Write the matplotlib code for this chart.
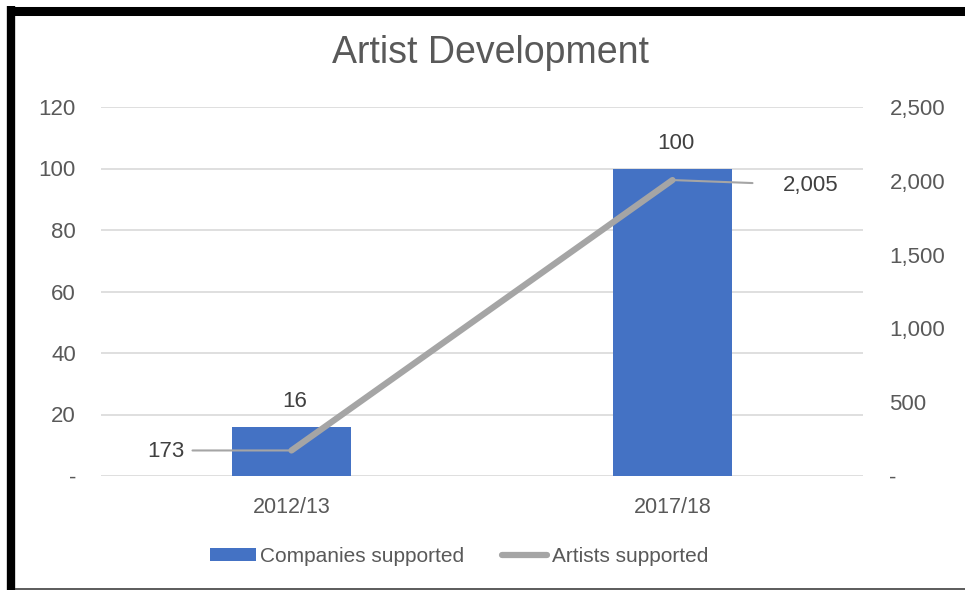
import matplotlib
matplotlib.use("Agg")
import matplotlib.pyplot as plt
from matplotlib.lines import Line2D
from matplotlib.patches import Patch
from matplotlib.ticker import FixedLocator, FuncFormatter

plt.rcParams["font.family"] = ["Liberation Sans", "DejaVu Sans"]

# Data
categories = ["2012/13", "2017/18"]
companies_supported = [16, 100]
artists_supported = [173, 2005]
left_ticks = [0, 20, 40, 60, 80, 100, 120]
right_ticks = [0, 500, 1000, 1500, 2000, 2500]

BLUE = "#4472C4"
GREY = "#A5A5A5"
TEXT = "#595959"
LABEL = "#404040"
GRID = "#D9D9D9"

W, H = 965, 592
fig = plt.figure(figsize=(W / 100, H / 100), dpi=100)
fig.patch.set_facecolor("white")

ax = fig.add_axes([101 / W, 1 - 476 / H, 762 / W, (476 - 107) / H])
ax2 = ax.twinx()

x = list(range(len(categories)))
ax.bar(x, companies_supported, width=0.31, color=BLUE, zorder=2)
ax.set_xlim(-0.5, len(categories) - 0.5)
ax.set_ylim(0, 120)
ax2.set_ylim(0, 2500)

ax2.plot(x, artists_supported, color=GREY, lw=4.5, solid_capstyle="round", zorder=3)

# Gridlines on the primary axis
ax.yaxis.set_major_locator(FixedLocator(left_ticks))
ax.grid(axis="y", color=GRID, lw=1.2, zorder=0)
ax.set_axisbelow(True)

def thousands(v, _):
    return "-" if v == 0 else f"{int(v):,}"

ax.yaxis.set_major_formatter(FuncFormatter(thousands))
ax2.yaxis.set_major_locator(FixedLocator(right_ticks))
ax2.yaxis.set_major_formatter(FuncFormatter(thousands))

ax.set_xticks(x)
ax.set_xticklabels(categories)
ax.tick_params(axis="x", length=0, pad=15, labelsize=15.5, labelcolor=TEXT)
ax.tick_params(axis="y", length=0, pad=18, labelsize=16, labelcolor=TEXT)
ax2.tick_params(axis="y", length=0, pad=19, labelsize=16, labelcolor=TEXT)
for lab in ax2.get_yticklabels():
    lab.set_horizontalalignment("left")

for a in (ax, ax2):
    for s in a.spines.values():
        s.set_visible(False)
    a.set_facecolor("none")

# Bar value labels
for xi, v in zip(x, companies_supported):
    ax.annotate(f"{v:,}", (xi, v), xytext=(3, 25), textcoords="offset pixels",
                ha="center", va="center", fontsize=16, color=LABEL)

# Line value labels, each joined to its point by a leader line
text_offsets = [(-126, -1), (138, -5)]
leader_offsets = [(-99, 0), (80, -3)]
for xi, v, toff, loff in zip(x, artists_supported, text_offsets, leader_offsets):
    ax2.annotate(f"{v:,}", (xi, v), xytext=toff, textcoords="offset pixels",
                 ha="center", va="center", fontsize=16, color=LABEL, zorder=4)
    ax2.annotate("", (xi, v), xytext=loff, textcoords="offset pixels",
                 arrowprops=dict(arrowstyle="-", color=GREY, lw=1.5,
                                 shrinkA=0, shrinkB=0), zorder=4)

fig.text(491 / W, 1 - 53 / H, "Artist Development", ha="center", va="center",
         fontsize=27, color=TEXT)

handles = [Patch(facecolor=BLUE, edgecolor="none"),
           Line2D([0], [0], color=GREY, lw=4.5, solid_capstyle="round")]
fig.legend(handles, ["Companies supported", "Artists supported"],
           loc="center", bbox_to_anchor=(459 / W, 1 - 556 / H), ncol=2,
           frameon=False, fontsize=15, handlelength=2.2, handleheight=0.6,
           handletextpad=0.2, columnspacing=1.8, labelcolor=TEXT)

# Outer frame
fig.add_artist(Line2D([11 / W, 11 / W], [1 - 590 / H, 1 - 6 / H],
                      transform=fig.transFigure, color="black", lw=6,
                      solid_capstyle="butt"))
fig.add_artist(Line2D([7 / W, 1.0], [1 - 10.5 / H, 1 - 10.5 / H],
                      transform=fig.transFigure, color="black", lw=6.5,
                      solid_capstyle="butt"))
fig.add_artist(Line2D([15 / W, 1.0], [1 - 589 / H, 1 - 589 / H],
                      transform=fig.transFigure, color="#404040", lw=1.2,
                      solid_capstyle="butt"))

fig.savefig("out.png", dpi=100, facecolor="white")
